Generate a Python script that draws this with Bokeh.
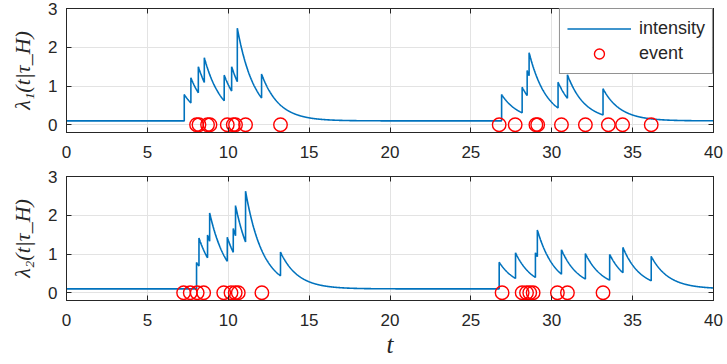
import numpy as np
from bokeh.plotting import figure
from bokeh.layouts import column
from bokeh.models import Range1d, FixedTicker, LinearAxis, Legend, LegendItem
from bokeh.embed import file_html
from bokeh.resources import INLINE

# ---------------- data ----------------
T_END = 40.0
BASELINE = 0.1       # background intensity
DECAY = 0.93         # exponential decay rate of the intensity after each jump

# process 1: jump times of the intensity and the value right after each jump
jump_t_1 = [7.28, 7.69, 8.15, 8.52, 9.75, 10.21, 10.56, 12.06,
            26.90, 28.17, 28.48, 28.60, 30.39, 30.97, 33.17]
jump_peak_1 = [0.78, 1.21, 1.50, 1.73, 1.28, 1.50, 2.49, 1.31,
               0.78, 0.97, 1.40, 1.86, 1.10, 1.29, 0.93]
events_1 = [8.04, 8.19, 8.72, 8.87, 9.94, 10.31, 10.45, 11.07, 13.23,
            26.75, 27.74, 29.02, 29.13, 30.60, 32.08, 33.50, 34.38, 36.15]

# process 2
jump_t_2 = [8.04, 8.19, 8.72, 8.85, 9.94, 10.31, 10.45, 11.07, 13.23,
            26.75, 27.76, 28.99, 29.11, 30.60, 32.08, 33.58, 34.40, 36.15]
jump_peak_2 = [0.78, 1.41, 1.49, 2.06, 1.43, 1.66, 2.25, 2.62, 1.05,
               0.79, 1.03, 1.03, 1.62, 1.11, 1.01, 0.99, 1.17, 0.94]
events_2 = [7.24, 7.65, 8.08, 8.48, 9.72, 10.17, 10.43, 10.62, 12.08,
            26.93, 28.17, 28.44, 28.64, 28.85, 30.35, 30.97, 33.17]

x_ticks = [0, 5, 10, 15, 20, 25, 30, 35, 40]
y_ticks = [0, 1, 2, 3]
y_labels = ["λ₁(t|τ_H)", "λ₂(t|τ_H)"]
x_label = "t"

LINE_COLOR = "#0072BD"
AX_COLOR = "#262626"
GRID_COLOR = "#e3e3e3"


def intensity_curve(jt, jp):
    xs = [0.0, jt[0]]
    ys = [BASELINE, BASELINE]
    bounds = list(jt) + [T_END]
    for k, (t0, p0) in enumerate(zip(jt, jp)):
        t1 = bounds[k + 1]
        seg = np.linspace(t0, t1, max(int((t1 - t0) * 60), 2))
        vals = BASELINE + (p0 - BASELINE) * np.exp(-DECAY * (seg - t0))
        xs.extend(seg.tolist())
        ys.extend(vals.tolist())
    return xs, ys


def make_fig(jt, jp, ev, ylab, height, top_b, bottom_b, with_xlabel, with_legend):
    p = figure(width=727, height=height, output_backend="svg", toolbar_location=None,
               x_range=Range1d(0, 40), y_range=Range1d(-0.2, 3),
               min_border_left=66, min_border_right=14,
               min_border_top=top_b, min_border_bottom=bottom_b)
    p.xaxis.ticker = FixedTicker(ticks=x_ticks)
    p.yaxis.ticker = FixedTicker(ticks=y_ticks)
    for ax in [p.xaxis[0], p.yaxis[0]]:
        ax.axis_line_color = AX_COLOR
        ax.major_tick_line_color = AX_COLOR
        ax.major_tick_in = 5
        ax.major_tick_out = 0
        ax.minor_tick_line_color = None
        ax.major_label_text_color = AX_COLOR
        ax.major_label_text_font = "Liberation Sans"
        ax.major_label_text_font_size = "17px"
        ax.major_label_standoff = 9
    p.xaxis.major_label_standoff = 13
    p.yaxis.axis_label = ylab
    p.yaxis.axis_label_text_font = "Liberation Serif"
    p.yaxis.axis_label_text_font_style = "italic"
    p.yaxis.axis_label_text_font_size = "22px"
    p.yaxis.axis_label_text_color = AX_COLOR
    p.yaxis.axis_label_standoff = 10
    if with_xlabel:
        p.xaxis.axis_label = x_label
        p.xaxis.axis_label_text_font = "Liberation Serif"
        p.xaxis.axis_label_text_font_style = "italic"
        p.xaxis.axis_label_text_font_size = "25px"
        p.xaxis.axis_label_text_color = AX_COLOR
        p.xaxis.axis_label_standoff = 2

    # mirrored ticks on top and right (box style), labels not drawn
    top = LinearAxis(ticker=FixedTicker(ticks=x_ticks))
    right = LinearAxis(ticker=FixedTicker(ticks=y_ticks))
    for ax in (top, right):
        ax.axis_line_color = AX_COLOR
        ax.major_tick_line_color = AX_COLOR
        ax.major_tick_in = 5
        ax.major_tick_out = 0
        ax.minor_tick_line_color = None
        ax.major_label_text_font_size = "1px"
        ax.major_label_text_color = None
        ax.major_label_standoff = 0
    p.add_layout(top, "above")
    p.add_layout(right, "right")

    p.xgrid.ticker = FixedTicker(ticks=x_ticks)
    p.ygrid.ticker = FixedTicker(ticks=y_ticks)
    p.grid.grid_line_color = GRID_COLOR
    p.grid.grid_line_width = 1
    p.outline_line_color = AX_COLOR
    p.outline_line_width = 1
    p.background_fill_color = "white"
    p.border_fill_color = "white"

    xs, ys = intensity_curve(jt, jp)
    r_line = p.line(xs, ys, line_color=LINE_COLOR, line_width=1.6)
    r_ev = p.scatter(ev, [0] * len(ev), marker="circle", size=13.5,
                     fill_color=None, line_color="#ff0000", line_width=1.4)

    if with_legend:
        legend = Legend(items=[LegendItem(label="intensity", renderers=[r_line]),
                               LegendItem(label="event", renderers=[r_ev])],
                        location="top_right")
        legend.margin = 0
        legend.padding = 7
        legend.spacing = 0
        legend.glyph_width = 64
        legend.glyph_height = 25
        legend.label_standoff = 8
        legend.label_text_font = "Liberation Sans"
        legend.label_text_font_size = "18px"
        legend.label_text_color = AX_COLOR
        legend.border_line_color = AX_COLOR
        legend.border_line_width = 1
        legend.background_fill_alpha = 1.0
        p.add_layout(legend, "center")
    return p


p1 = make_fig(jump_t_1, jump_peak_1, events_1, y_labels[0], 166, 8, 34, False, True)
p2 = make_fig(jump_t_2, jump_peak_2, events_2, y_labels[1], 198, 10, 64, True, False)

layout = column(p1, p2, spacing=0)
open("out.html", "w").write(file_html(layout, INLINE))
